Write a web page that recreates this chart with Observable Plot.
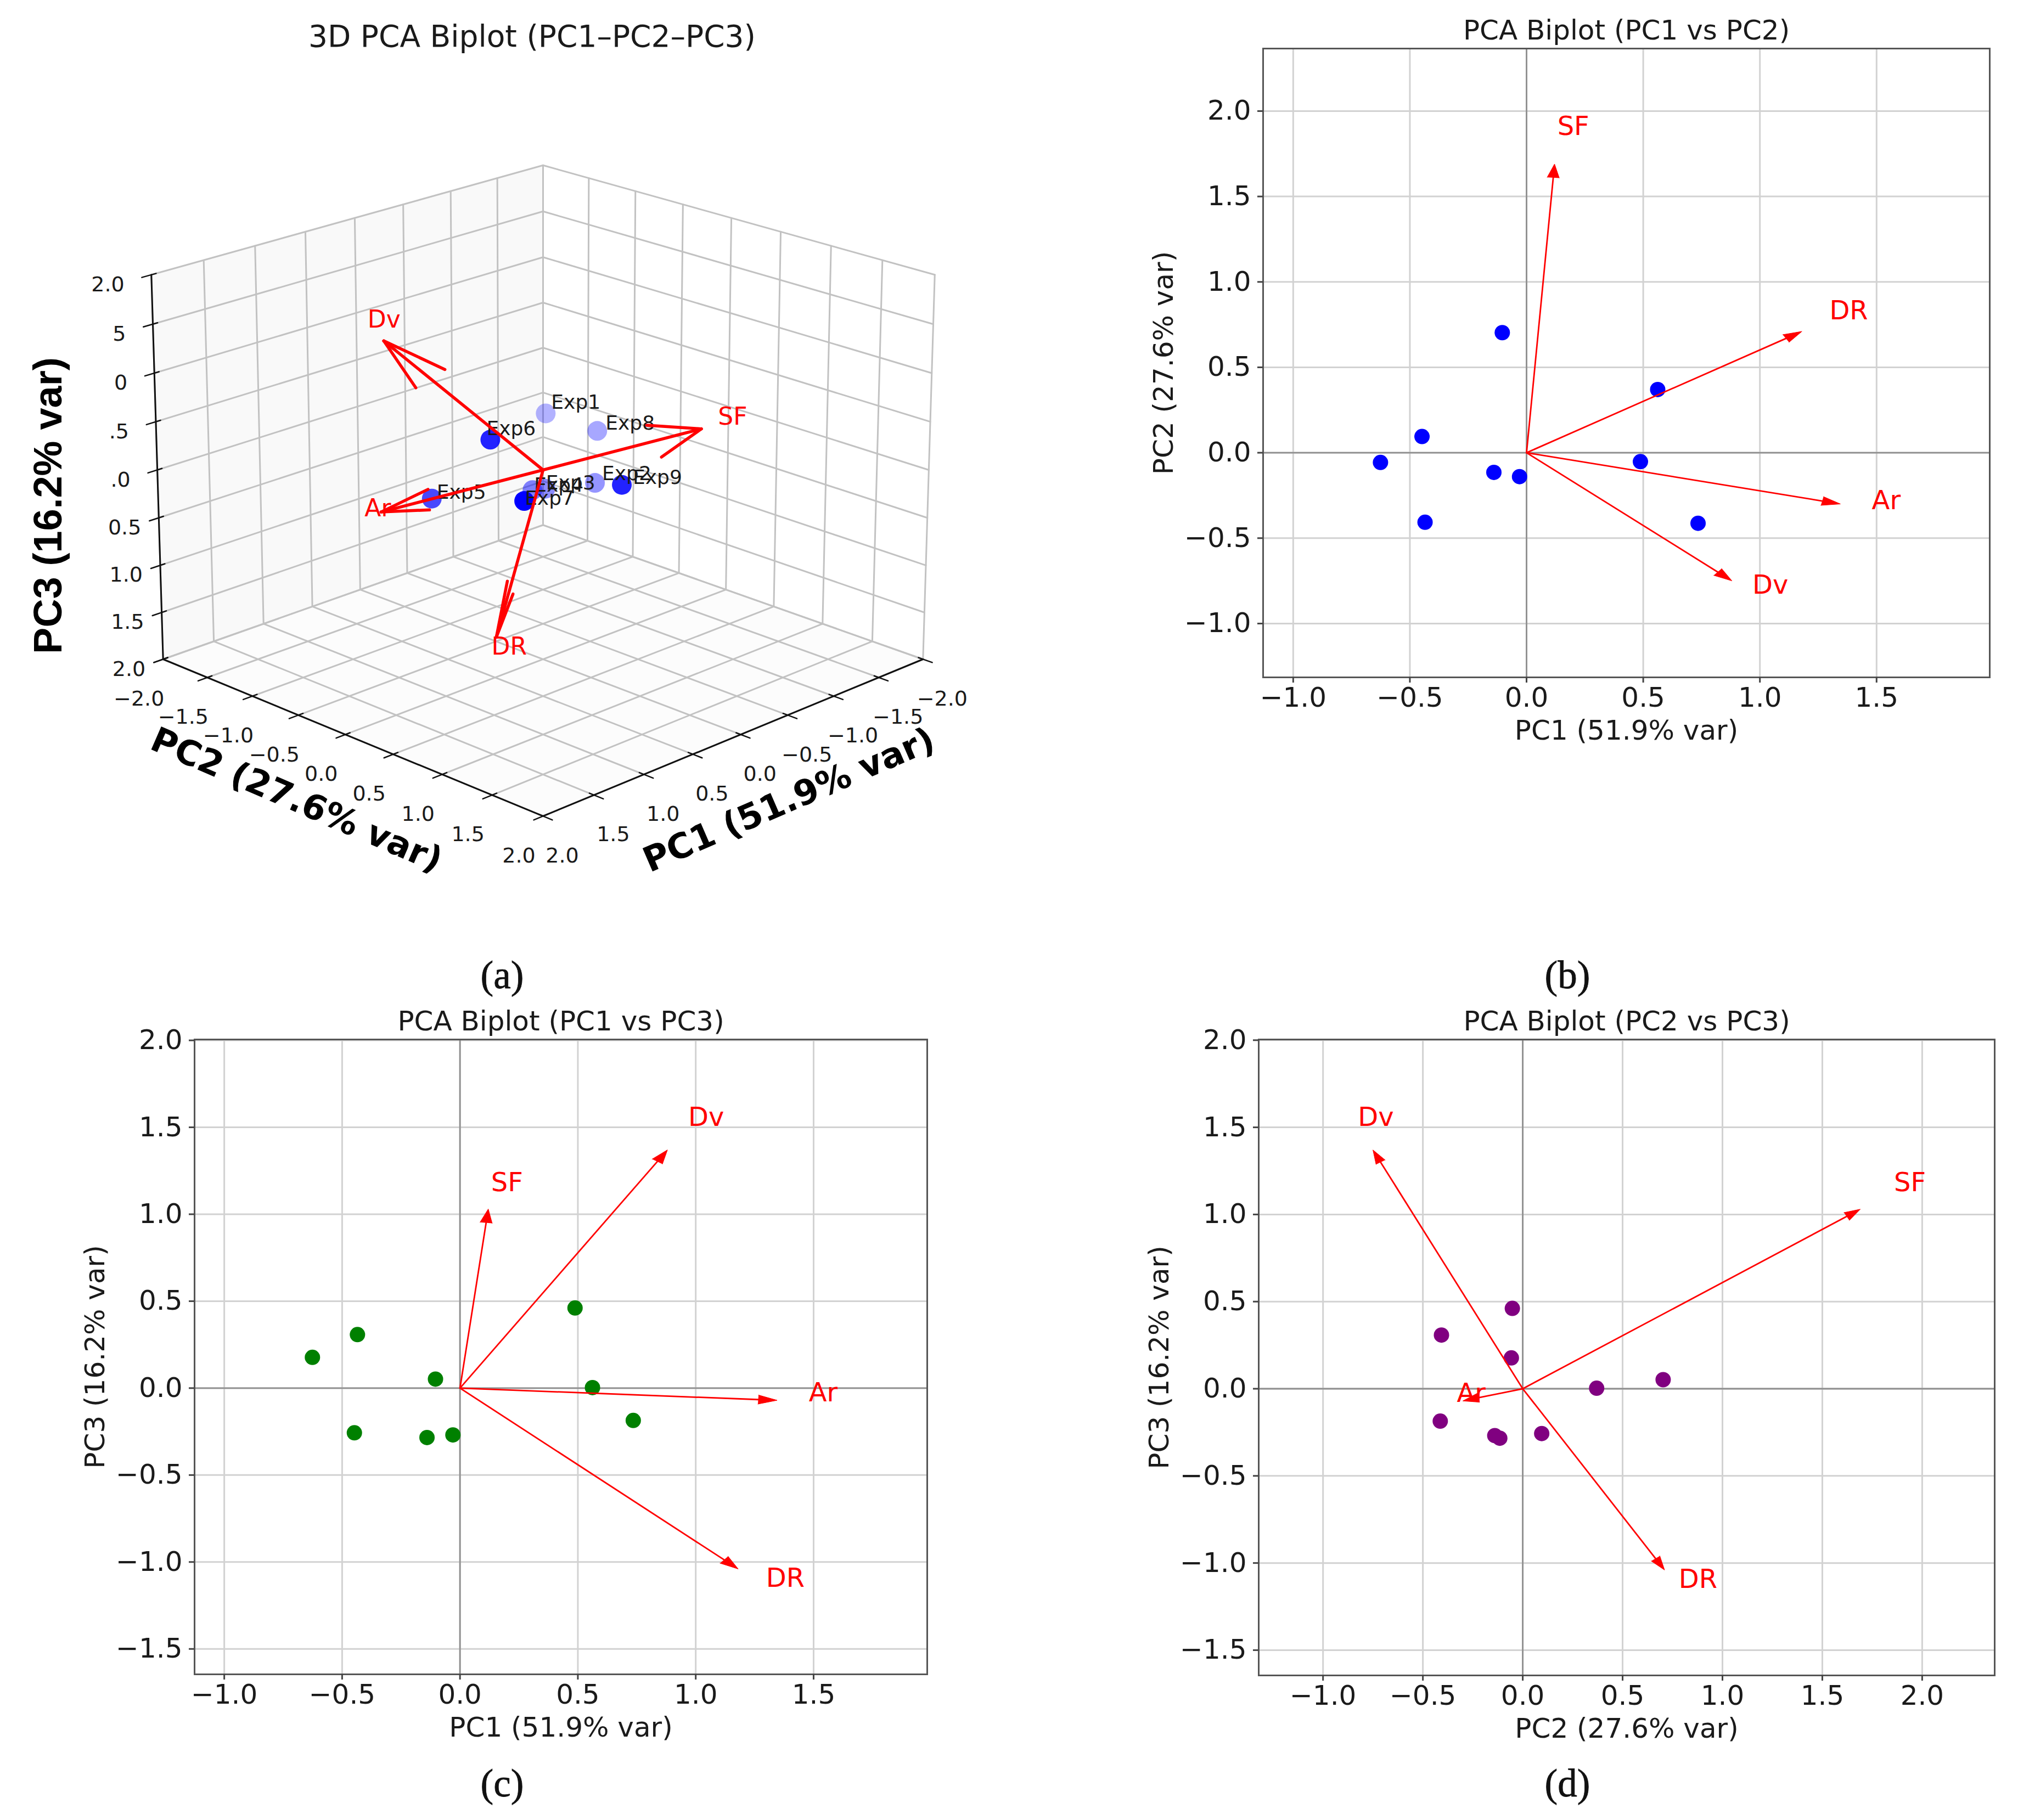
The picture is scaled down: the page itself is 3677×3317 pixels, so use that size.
<!DOCTYPE html>
<html>
<head>
<meta charset="utf-8">
<script src="https://cdn.jsdelivr.net/npm/d3@7"></script>
<script src="https://cdn.jsdelivr.net/npm/@observablehq/plot@0.6"></script>
<style>
  html, body { margin: 0; padding: 0; background: #fff; }
  #page { position: relative; width: 3677px; height: 3317px; overflow: hidden; background: #fff; }
  .panel { position: absolute; }
  .panel svg { display: block; max-width: none; }
  .cap { position: absolute; font-family: "Liberation Serif", serif; font-size: 71px; color: #111; -webkit-text-stroke: 0.8px #111; transform: translate(-50%, -50%); line-height: 1; }
</style>
</head>
<body>
<div id="page"></div>
<script>
// ---------- values ----------
const experiments = ["Exp1", "Exp2", "Exp3", "Exp4", "Exp5", "Exp6", "Exp7", "Exp8", "Exp9"];
const pc1 = [-0.435, -0.448, -0.14, -0.03, 0.735, 0.488, 0.562, -0.626, -0.104];
const pc2 = [-0.407, 0.095, -0.115, -0.14, -0.413, -0.052, 0.37, -0.057, 0.703];
const pc3 = [0.308, -0.257, -0.284, -0.269, -0.186, 0.461, 0.003, 0.177, 0.052];

const variables = ["SF", "DR", "Ar", "Dv"];
const load1 = [0.12, 1.18, 1.345, 0.88];
const load2 = [1.69, 0.71, -0.30, -0.75];
const load3 = [1.03, -1.04, -0.07, 1.37];

const label1 = "PC1 (51.9% var)";
const label2 = "PC2 (27.6% var)";
const label3 = "PC3 (16.2% var)";
const ticks3d = [-2, -1.5, -1, -0.5, 0, 0.5, 1, 1.5, 2];
const zShownPos = ["2.0", "5", "0", ".5", ".0"];
const zShownNeg = ["0.5", "1.0", "1.5", "2.0"];
const zValuesPos = [2, 1.5, 1, 0.5, 0];
const zValuesNeg = [-0.5, -1, -1.5, -2];

const page = document.getElementById("page");
const FONT = "DejaVu Sans";
const INK = "#1a1a1a";
const fmt = d3.format(".1f");

function place(node, left, top) {
  const d = document.createElement("div");
  d.className = "panel";
  d.style.left = left + "px";
  d.style.top = top + "px";
  d.appendChild(node);
  page.appendChild(d);
}

// ---------- 2D biplots ----------
function biplot({title, xs, ys, lx, ly, xLabel, yLabel, color, xDomain, yDomain, xTicks, yTicks, frame}) {
  const mL = 260, mR = 24, mT = 90, mB = 160;
  const W = frame.right - frame.left, H = frame.bottom - frame.top;
  const pts = xs.map((x, i) => ({x, y: ys[i]}));
  const shafts = [], heads = [], labels = [];
  lx.forEach((tx, i) => {
    const ty = ly[i], len = Math.hypot(tx, ty), ux = tx / len, uy = ty / len;
    const hl = 0.08, hw = 0.026;
    const bx = tx - ux * hl, by = ty - uy * hl;
    shafts.push({id: i, x: 0, y: 0}, {id: i, x: bx, y: by});
    heads.push({id: i, x: bx - uy * hw, y: by + ux * hw}, {id: i, x: tx, y: ty}, {id: i, x: bx + uy * hw, y: by - ux * hw});
    labels.push({x: tx * 1.1, y: ty * 1.1, t: variables[i]});
  });
  const plot = Plot.plot({
    width: W + mL + mR, height: H + mT + mB,
    marginLeft: mL, marginRight: mR, marginTop: mT, marginBottom: mB,
    style: {fontFamily: FONT, background: "transparent", overflow: "visible"},
    x: {domain: xDomain}, y: {domain: yDomain},
    marks: [
      Plot.gridX(xTicks, {stroke: "#d2d2d2", strokeOpacity: 1, strokeWidth: 3}),
      Plot.gridY(yTicks, {stroke: "#d2d2d2", strokeOpacity: 1, strokeWidth: 3}),
      Plot.ruleX([0], {stroke: "#8f8f8f", strokeWidth: 2.8}),
      Plot.ruleY([0], {stroke: "#8f8f8f", strokeWidth: 2.8}),
      Plot.frame({stroke: "#555", strokeWidth: 3}),
      Plot.axisX(xTicks, {anchor: "bottom", label: null, tickSize: 10, tickPadding: 8, fontSize: 50, tickFormat: fmt, stroke: "#444", strokeWidth: 3, fill: INK}),
      Plot.axisY(yTicks, {anchor: "left", label: null, tickSize: 10, tickPadding: 12, fontSize: 50, tickFormat: fmt, stroke: "#444", strokeWidth: 3, fill: INK}),
      Plot.dot(pts, {x: "x", y: "y", r: 14, fill: color}),
      Plot.line(shafts, {x: "x", y: "y", z: "id", stroke: "#ff0000", strokeWidth: 2.8}),
      Plot.line(heads, {x: "x", y: "y", z: "id", fill: "#ff0000", stroke: "#ff0000", strokeWidth: 1}),
      Plot.text(labels, {x: "x", y: "y", text: "t", fill: "#ff0000", fontSize: 48, textAnchor: "start", lineAnchor: "bottom"}),
      Plot.text([title], {frameAnchor: "top", lineAnchor: "middle", dy: -33, fontSize: 50, fill: INK}),
      Plot.text([xLabel], {frameAnchor: "bottom", lineAnchor: "middle", dy: 97, fontSize: 50, fill: INK}),
      Plot.text([yLabel], {frameAnchor: "left", lineAnchor: "middle", textAnchor: "middle", rotate: -90, dx: -181, fontSize: 50, fill: INK})
    ]
  });
  place(plot, frame.left - mL, frame.top - mT);
}

biplot({
  title: "PCA Biplot (PC1 vs PC2)", xs: pc1, ys: pc2, lx: load1, ly: load2,
  xLabel: label1, yLabel: label2, color: "#0000ff",
  xDomain: [-1.129, 1.985], yDomain: [-1.315, 2.366],
  xTicks: [-1, -0.5, 0, 0.5, 1, 1.5], yTicks: [-1, -0.5, 0, 0.5, 1, 1.5, 2],
  frame: {left: 2301, right: 3625, top: 88, bottom: 1234}
});
biplot({
  title: "PCA Biplot (PC1 vs PC3)", xs: pc1, ys: pc3, lx: load1, ly: load3,
  xLabel: label1, yLabel: label3, color: "#008000",
  xDomain: [-1.126, 1.982], yDomain: [-1.646, 2.005],
  xTicks: [-1, -0.5, 0, 0.5, 1, 1.5], yTicks: [-1.5, -1, -0.5, 0, 0.5, 1, 1.5, 2],
  frame: {left: 354, right: 1689, top: 1894, bottom: 3051}
});
biplot({
  title: "PCA Biplot (PC2 vs PC3)", xs: pc2, ys: pc3, lx: load2, ly: load3,
  xLabel: label2, yLabel: label3, color: "#800080",
  xDomain: [-1.322, 2.363], yDomain: [-1.645, 2.004],
  xTicks: [-1, -0.5, 0, 0.5, 1, 1.5, 2], yTicks: [-1.5, -1, -0.5, 0, 0.5, 1, 1.5, 2],
  frame: {left: 2293, right: 3634, top: 1894, bottom: 3053}
});

// ---------- 3D biplot: perspective camera ----------
const elev = 20 * Math.PI / 180, azim = 45 * Math.PI / 180;
const unitXY = 0.2976, unitZ = 0.2232, dist = 10;
const se = Math.sin(elev), ce = Math.cos(elev), sa = Math.sin(azim), ca = Math.cos(azim);
function toView(a, b, c) {
  const px = a * unitXY, py = b * unitXY, pz = c * unitZ;
  const u = -sa * px + ca * py;
  const v = -se * ca * px - se * sa * py + ce * pz;
  const n = ce * ca * px + ce * sa * py + se * pz;
  const w = dist - n;
  return {sx: u / w, sy: v / w, depth: n};
}
const P = (a, b, c, extra = {}) => ({...toView(a, b, c), ...extra});

const SCALE = 8350, OX = 989, OY = 856, W3 = 1938, H3 = 1720;

const walls = [
  [[2, -2, -2], [-2, -2, -2], [-2, -2, 2], [2, -2, 2]].map(q => P(...q, {id: "left"})),
  [[-2, -2, -2], [-2, 2, -2], [-2, 2, 2], [-2, -2, 2]].map(q => P(...q, {id: "right"})),
  [[2, -2, -2], [-2, -2, -2], [-2, 2, -2], [2, 2, -2]].map(q => P(...q, {id: "floor"}))
];
const grid = [];
let gid = 0;
for (const t of ticks3d) {
  grid.push(P(t, -2, -2, {id: gid}), P(t, -2, 2, {id: gid})); gid++;
  grid.push(P(2, -2, t, {id: gid}), P(-2, -2, t, {id: gid})); gid++;
  grid.push(P(-2, t, -2, {id: gid}), P(-2, t, 2, {id: gid})); gid++;
  grid.push(P(-2, -2, t, {id: gid}), P(-2, 2, t, {id: gid})); gid++;
  grid.push(P(t, -2, -2, {id: gid}), P(t, 2, -2, {id: gid})); gid++;
  grid.push(P(-2, t, -2, {id: gid}), P(2, t, -2, {id: gid})); gid++;
}
const axes3 = [
  P(2, -2, 2, {id: "z"}), P(2, -2, -2, {id: "z"}),
  P(2, -2, -2, {id: "b"}), P(2, 2, -2, {id: "b"}),
  P(2, 2, -2, {id: "a"}), P(-2, 2, -2, {id: "a"})
];
const tickMarks = [];
let tid = 0;
for (const t of ticks3d) {
  tickMarks.push(P(2.09, t, -2, {id: tid}), P(1.955, t, -2, {id: tid})); tid++;
  tickMarks.push(P(t, 2.09, -2, {id: tid}), P(t, 1.955, -2, {id: tid})); tid++;
  tickMarks.push(P(2.09, -2, t, {id: tid}), P(1.955, -2, t, {id: tid})); tid++;
}

const rawPts = experiments.map((name, i) => P(pc1[i], pc2[i], pc3[i], {name}));
const dMin = d3.min(rawPts, d => d.depth), dMax = d3.max(rawPts, d => d.depth);
const pts3 = rawPts
  .map(d => ({...d, alpha: 0.3 + 0.7 * (d.depth - dMin) / (dMax - dMin)}))
  .sort((p, q) => p.depth - q.depth);

// offsets (pixels) of each experiment's label from its dot, as seen in the picture
const nudgeX = {Exp1: 10, Exp2: 13, Exp3: 1, Exp4: 3, Exp5: 9, Exp6: -7, Exp7: 1, Exp8: 15, Exp9: 20};
const nudgeY = {Exp1: -8, Exp2: -5, Exp3: 1, Exp4: 3, Exp5: 0, Exp6: -8, Exp7: 7, Exp8: -2, Exp9: -2};

const arrows3 = [], arrowLabels3 = [];
variables.forEach((name, i) => {
  const a = load1[i], b = load2[i], c = load3[i];
  arrows3.push(P(0, 0, 0, {id: "s" + i}), P(a, b, c, {id: "s" + i}));
  const kn = Math.hypot(a, b), kx = b / kn, ky = -a / kn;
  const th = 15 * Math.PI / 180, cs = Math.cos(th), sn = Math.sin(th);
  for (const sgn of [1, -1]) {
    // rotate the arrow about an axis perpendicular to it, in the ground plane
    const rx = a * cs + sgn * sn * (ky * c);
    const ry = b * cs + sgn * sn * (-kx * c);
    const rz = c * cs + sgn * sn * (kx * b - ky * a);
    arrows3.push(P(a, b, c, {id: "h" + i + sgn}), P(a - 0.3 * rx, b - 0.3 * ry, c - 0.3 * rz, {id: "h" + i + sgn}));
  }
  arrowLabels3.push(P(a * 1.1, b * 1.1, c * 1.1, {name}));
});

const plot3 = Plot.plot({
  width: W3, height: H3, margin: 0,
  style: {fontFamily: FONT, background: "transparent", overflow: "visible"},
  x: {domain: [(0 - OX) / SCALE, (W3 - OX) / SCALE], axis: null},
  y: {domain: [(OY - H3) / SCALE, OY / SCALE], axis: null},
  marks: [
    Plot.line(walls[0], {x: "sx", y: "sy", fill: "#f9f9f9", stroke: "none"}),
    Plot.line(walls[1], {x: "sx", y: "sy", fill: "#ffffff", stroke: "none"}),
    Plot.line(walls[2], {x: "sx", y: "sy", fill: "#fcfcfc", stroke: "none"}),
    Plot.line(grid, {x: "sx", y: "sy", z: "id", stroke: "#c2c2c2", strokeWidth: 3}),
    Plot.line(axes3, {x: "sx", y: "sy", z: "id", stroke: "#111", strokeWidth: 3}),
    Plot.line(tickMarks, {x: "sx", y: "sy", z: "id", stroke: "#111", strokeWidth: 2.5}),
    Plot.text(ticks3d.map(t => P(t, 2, -2, {t})), {x: "sx", y: "sy", text: d => fmt(d.t), dx: 35, dy: 72, fontSize: 38, fill: INK}),
    Plot.text(ticks3d.map(t => P(2, t, -2, {t})), {x: "sx", y: "sy", text: d => fmt(d.t), dx: -44, dy: 72, fontSize: 38, fill: INK}),
    Plot.text(zValuesPos.map((z, i) => P(2, -2, z, {t: zShownPos[i]})), {x: "sx", y: "sy", text: "t", textAnchor: "end", dx: -49, dy: 18, fontSize: 38, fill: INK}),
    Plot.text(zValuesNeg.map((z, i) => P(2, -2, z, {t: zShownNeg[i]})), {x: "sx", y: "sy", text: "t", textAnchor: "end", dx: -32, dy: 18, fontSize: 38, fill: INK}),
    Plot.dot(pts3, {x: "sx", y: "sy", r: 18, fill: "#0000ff", fillOpacity: "alpha"}),
    Plot.text(pts3, {x: d => d.sx + nudgeX[d.name] / SCALE, y: d => d.sy - nudgeY[d.name] / SCALE, text: "name", textAnchor: "start", lineAnchor: "bottom", fontSize: 36, fill: INK}),
    Plot.text(arrowLabels3, {x: "sx", y: "sy", text: "name", textAnchor: "start", lineAnchor: "bottom", fontSize: 44, fill: "#ff0000"}),
    Plot.line(arrows3, {x: "sx", y: "sy", z: "id", stroke: "#ff0000", strokeWidth: 5.5}),
    Plot.text(["3D PCA Biplot (PC1–PC2–PC3)"], {frameAnchor: "top", lineAnchor: "middle", dy: 67, fontSize: 55, fill: INK}),
    Plot.text([P(2, 0, -2, {t: label2})], {x: "sx", y: "sy", text: "t", rotate: 23.4, dx: -89, dy: 120, fontSize: 63, fontWeight: "bold", fill: "#000"}),
    Plot.text([P(0, 2, -2, {t: label1})], {x: "sx", y: "sy", text: "t", rotate: -23.4, dx: 88, dy: 120, fontSize: 63, fontWeight: "bold", fill: "#000"}),
    Plot.text([P(2, -2, 0, {t: label3})], {x: "sx", y: "sy", text: "t", rotate: -90, dx: -198, dy: 65, fontSize: 72, fontWeight: "bold", fontFamily: "Liberation Sans", fill: "#000"})
  ]
});
place(plot3, 0, 0);

// ---------- captions ----------
const captions = ["(a)", "(b)", "(c)", "(d)"];
const capX = [915, 2856, 915, 2856];
const capY = [1777, 1777, 3250, 3250];
captions.forEach((c, i) => {
  const d = document.createElement("div");
  d.className = "cap";
  d.textContent = c;
  d.style.left = capX[i] + "px";
  d.style.top = capY[i] + "px";
  page.appendChild(d);
});
</script>
</body>
</html>
